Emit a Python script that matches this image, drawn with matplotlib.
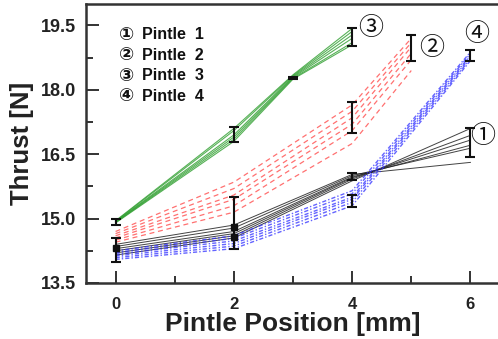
import matplotlib
matplotlib.use("Agg")
import matplotlib.pyplot as plt
import numpy as np

# ---------------- data ----------------
x_p1 = [0, 2, 4, 6]
p1_runs = [
    [14.15, 14.55, 15.88, 17.10],
    [14.20, 14.60, 15.92, 16.94],
    [14.25, 14.65, 15.95, 16.83],
    [14.30, 14.70, 15.97, 16.71],
    [14.35, 14.78, 16.00, 16.64],
    [14.40, 14.85, 16.03, 16.31],
]
x_p2 = [0, 2, 4, 5]
p2_runs = [
    [14.45, 15.15, 16.75, 18.45],
    [14.50, 15.30, 17.05, 18.70],
    [14.55, 15.45, 17.20, 18.85],
    [14.60, 15.55, 17.35, 19.00],
    [14.65, 15.70, 17.50, 19.10],
    [14.70, 15.85, 17.65, 19.20],
]
x_p3 = [0, 2, 3, 4]
p3_runs = [
    [14.90, 16.80, 18.25, 19.05],
    [14.91, 16.85, 18.27, 19.10],
    [14.92, 16.90, 18.29, 19.20],
    [14.93, 16.95, 18.31, 19.28],
    [14.94, 17.05, 18.33, 19.36],
    [14.95, 17.10, 18.35, 19.43],
]
x_p4 = [0, 2, 4, 6]
p4_runs = [
    [14.05, 14.30, 15.30, 18.68],
    [14.09, 14.36, 15.38, 18.72],
    [14.13, 14.42, 15.45, 18.76],
    [14.17, 14.48, 15.50, 18.80],
    [14.21, 14.54, 15.58, 18.84],
    [14.25, 14.60, 15.65, 18.88],
]

# error bars (x, mean, half-range)
err_x = [0, 0, 2, 2, 3, 4, 4, 4, 4, 5, 6, 6]
err_y = [14.27, 14.92, 14.90, 16.96, 18.28, 19.24, 17.35, 15.98, 15.41, 18.98, 16.77, 18.80]
err_h = [0.28, 0.06, 0.60, 0.18, 0.03, 0.21, 0.36, 0.09, 0.14, 0.30, 0.33, 0.12]
err_mark_x = [0, 2, 2]
err_mark_y = [14.31, 14.80, 14.57]

legend_marks = ["\u2460", "\u2461", "\u2462", "\u2463"]
legend_labels = ["Pintle  1", "Pintle  2", "Pintle  3", "Pintle  4"]
tag_text = ["\u2460", "\u2461", "\u2462", "\u2463"]
tag_x = [6.2, 5.35, 4.31, 6.11]
tag_y = [16.92, 18.97, 19.43, 19.31]

x_ticks = [0, 2, 4, 6]
y_ticks = [13.5, 15.0, 16.5, 18.0, 19.5]

# ---------------- plot ----------------
fig = plt.figure(figsize=(4.98, 3.39), dpi=100)
ax = fig.add_axes([86 / 498, 1 - 283 / 339, 414 / 498, 279 / 339])

for r in p1_runs:
    ax.plot(x_p1, r, color="#222222", lw=0.7, alpha=0.85, zorder=2)
for r in p2_runs:
    ax.plot(x_p2, r, color="#ff4d4d", lw=0.9, ls=(0, (4, 3)), alpha=0.8, zorder=2)
for r in p3_runs:
    ax.plot(x_p3, r, color="#2e9e2e", lw=0.8, alpha=0.8, zorder=2)
for r in p4_runs:
    ax.plot(x_p4, r, color="#3030ff", lw=1.0, ls=(0, (3, 1.5, 1, 1.5)), alpha=0.75, zorder=2)

ax.errorbar(err_x, err_y, yerr=err_h, fmt="none", ecolor="#111111",
            elinewidth=1.5, capsize=3.5, capthick=1.5, zorder=4)
ax.plot(err_mark_x, err_mark_y, ls="none", marker="s", ms=4, color="#111111", zorder=5)

ax.set_xlim(-0.5, 6.5)
ax.set_ylim(13.5, 20.0)
ax.set_xticks(x_ticks)
ax.set_xticks([1, 3, 5], minor=True)
ax.set_yticks(y_ticks)
ax.set_yticks([14.25, 15.75, 17.25, 18.75], minor=True)
ax.set_yticklabels([f"{v:.1f}" for v in y_ticks])
ax.set_xticklabels([str(v) for v in x_ticks])

ax.tick_params(which="major", direction="in", length=9, width=1.4, color="#333333",
               labelsize=13, pad=7)
ax.tick_params(which="minor", direction="in", length=5, width=1.4, color="#333333")
ax.tick_params(axis="x", which="major", labelsize=12, pad=10)
for lab in ax.get_xticklabels() + ax.get_yticklabels():
    lab.set_fontweight("bold")
    lab.set_family(["Liberation Sans", "DejaVu Sans"])
    lab.set_color("#222222")

for s in ["left", "bottom", "top"]:
    ax.spines[s].set_linewidth(1.8)
    ax.spines[s].set_color("#333333")
ax.spines["right"].set_visible(False)

ax.set_xlabel("Pintle Position [mm]", fontsize=19, fontweight="bold",
              family=["Liberation Sans", "DejaVu Sans"], color="#222222", labelpad=0)
ax.set_ylabel("Thrust [N]", fontsize=18.5, fontweight="bold",
              family=["Liberation Sans", "DejaVu Sans"], color="#222222", labelpad=5)

leg_y = [0.889, 0.817, 0.742, 0.670]
for m, t, yy in zip(legend_marks, legend_labels, leg_y):
    ax.text(0.099, yy, m, transform=ax.transAxes, fontsize=13, fontweight="bold",
            family=["DejaVu Sans", "Noto Sans CJK JP"],
            va="center", ha="center", color="#111111")
    ax.text(0.135, yy, t, transform=ax.transAxes, fontsize=11.5, fontweight="bold",
            family=["Liberation Sans", "DejaVu Sans"],
            va="center", ha="left", color="#111111")

for t, xx, yy in zip(tag_text, tag_x, tag_y):
    ax.text(xx, yy, t, fontsize=18, family=["Noto Sans CJK JP", "DejaVu Sans"],
            ha="center", va="center", color="#111111")

fig.savefig("out.png", dpi=100)
